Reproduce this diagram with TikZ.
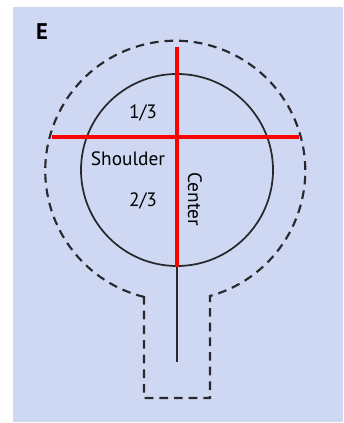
\documentclass[tikz,border=0pt]{standalone}
\usepackage{fontspec}
\setmainfont{PT Sans}
\definecolor{bglav}{RGB}{206,216,242}
\definecolor{inkgray}{RGB}{40,40,45}
\begin{document}
\begin{tikzpicture}[x=0.75pt, y=-0.75pt,
  lbl/.style={font=\fontsize{14.5}{16}\selectfont, inner sep=0pt, text=black},
  redline/.style={draw=red, line width=2.4pt},
  dashline/.style={draw=inkgray, line width=1.6pt, dash pattern=on 6.5pt off 4.5pt},
  ring/.style={circle, draw=inkgray, line width=1.3pt, minimum size=144pt, inner sep=0pt}]
\useasboundingbox (0,0) rectangle (343,423);
\fill[bglav] (13,7) rectangle (343,422);
% outer dashed outline with sleeve
\draw[dashline] (144,296) -- (144,398) -- (210,398) -- (210,296)
  arc[start angle=74.5, end angle=-256.2, radius=130];
% inner circle and stem
\node[ring] (ball) at (177,170) {};
\coordinate (stemend) at (177,362);
\draw[inkgray, line width=1.1pt] (ball.south) -- (stemend);
% red cross
\coordinate (vtop) at (177,47);
\coordinate (hleft) at (52,137);
\coordinate (hright) at (299,137);
\draw[redline] (vtop) -- (ball.south);
\draw[redline] (hleft) -- (hright);
% labels
\node[font=\fontsize{17}{19}\selectfont\bfseries, inner sep=0pt] (tag) at (42,32) {E};
\node[lbl] (third) at (143,113) {1/3};
\node[lbl] (shoulder) at (128,159) {Shoulder};
\node[lbl] (twothird) at (143,201) {2/3};
\node[lbl, rotate=-90] (center) at (195,199) {Center};
\end{tikzpicture}
\end{document}
